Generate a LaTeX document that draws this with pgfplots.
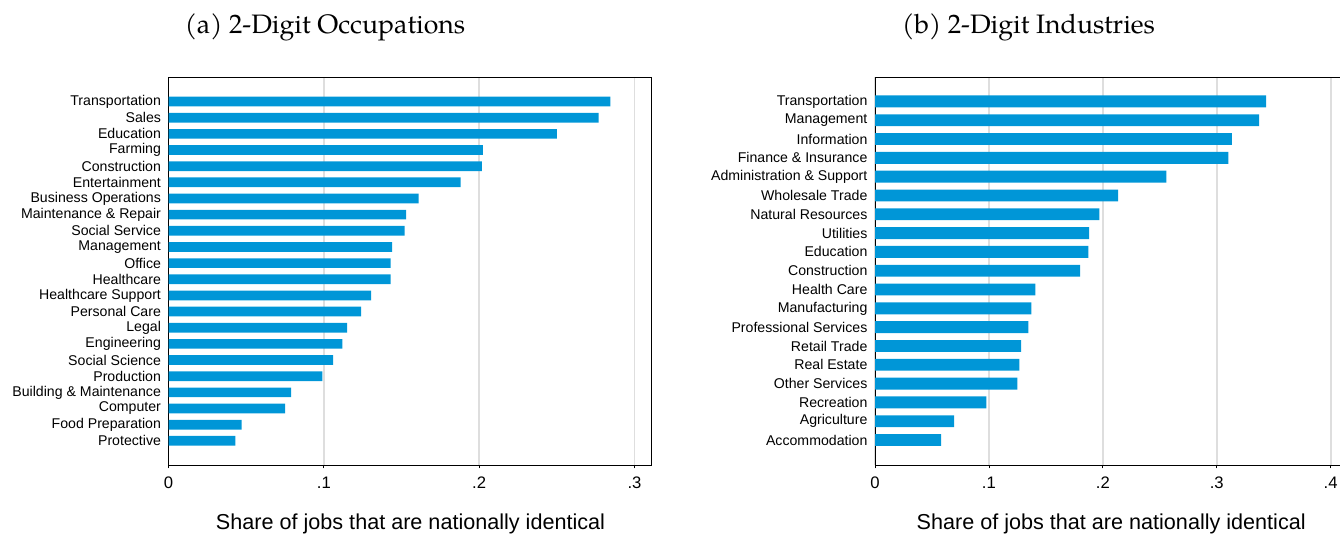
\documentclass[border=0pt]{standalone}
\usepackage{fontspec}
\setmainfont{Liberation Sans}
\newfontfamily\titlefont{TeX Gyre Pagella}
\usepackage{pgfplots}
\pgfplotsset{compat=1.18}

\definecolor{barblue}{RGB}{0,150,215}
\definecolor{gridgray}{RGB}{222,222,222}

% 1 px of the reference = 0.75pt
\pgfplotsset{
  hpanel/.style={
    xbar,
    scale only axis,
    width=362.25pt,
    height=290.8pt,
    anchor=north west,
    xmin=0,
    axis line style={black, line width=0.7pt},
    xmajorgrids=true,
    grid style={gridgray, line width=1.4pt},
    tick align=outside,
    xtick pos=left,
    major tick length=2.5pt,
    ytick style={draw=none},
    xtick style={black, line width=0.6pt},
    xticklabel style={font=\fontsize{12.5}{14}\selectfont, yshift=-3pt},
    yticklabel style={font=\fontsize{10.6}{12}\selectfont, inner sep=0pt, xshift=-3pt},
    xlabel={Share of jobs that are nationally identical},
    xlabel style={font=\fontsize{16.2}{19}\selectfont, anchor=base},
    title style={font=\titlefont\fontsize{20}{24}\selectfont, anchor=base},
  }
}

\begin{document}
\begin{tikzpicture}
\useasboundingbox (0,0) rectangle (1005pt,-400.5pt);

% (a) occupations, Protective at 0 ... Transportation at 21
\begin{axis}[
    hpanel,
    at={(126.4pt,-58pt)},
    xmax=0.311,
    ymin=-1.5, ymax=22.5,
    bar width=0.6,
    xtick={0,0.1,0.2,0.3},
    xticklabels={0,.1,.2,.3},
    ytick={0,...,21},
    yticklabels={Protective, Food Preparation, Computer, Building \& Maintenance,
      Production, Social Science, Engineering, Legal, Personal Care,
      Healthcare Support, Healthcare, Office, Management, Social Service,
      Maintenance \& Repair, Business Operations, Entertainment, Construction,
      Farming, Education, Sales, Transportation},
    title={(a) 2-Digit Occupations},
    title style={at={(0.324,1)}, yshift=27pt},
    xlabel style={at={(axis description cs:0.501,0)}, yshift=-48pt},
]
\addplot[fill=barblue, draw=none] coordinates {
  (0.043,0) (0.047,1) (0.075,2) (0.079,3) (0.099,4) (0.106,5) (0.112,6)
  (0.115,7) (0.124,8) (0.1305,9) (0.143,10) (0.143,11) (0.144,12)
  (0.152,13) (0.153,14) (0.161,15) (0.188,16) (0.2018,17) (0.2024,18)
  (0.250,19) (0.277,20) (0.2845,21)
};
\end{axis}

% (b) industries, Accommodation at 0 ... Transportation at 18
\begin{axis}[
    hpanel,
    at={(656.25pt,-58pt)},
    xmax=0.424,
    ymin=-1.33, ymax=19.28,
    bar width=0.63,
    xtick={0,0.1,0.2,0.3,0.4},
    xticklabels={0,.1,.2,.3,.4},
    ytick={0,...,18},
    yticklabels={Accommodation, Agriculture, Recreation, Other Services,
      Real Estate, Retail Trade, Professional Services, Manufacturing,
      Health Care, Construction, Education, Utilities, Natural Resources,
      Wholesale Trade, Administration \& Support, Finance \& Insurance,
      Information, Management, Transportation},
    title={(b) 2-Digit Industries},
    title style={at={(0.318,1)}, yshift=27pt},
    xlabel style={at={(axis description cs:0.489,0)}, yshift=-48pt},
]
\addplot[fill=barblue, draw=none] coordinates {
  (0.0580,0) (0.0695,1) (0.0978,2) (0.1250,3) (0.1268,4) (0.1282,5)
  (0.1346,6) (0.1372,7) (0.1407,8) (0.1801,9) (0.1873,10) (0.1880,11)
  (0.1970,12) (0.2134,13) (0.2557,14) (0.3101,15) (0.3133,16)
  (0.3373,17) (0.3434,18)
};
\end{axis}
\end{tikzpicture}
\end{document}
